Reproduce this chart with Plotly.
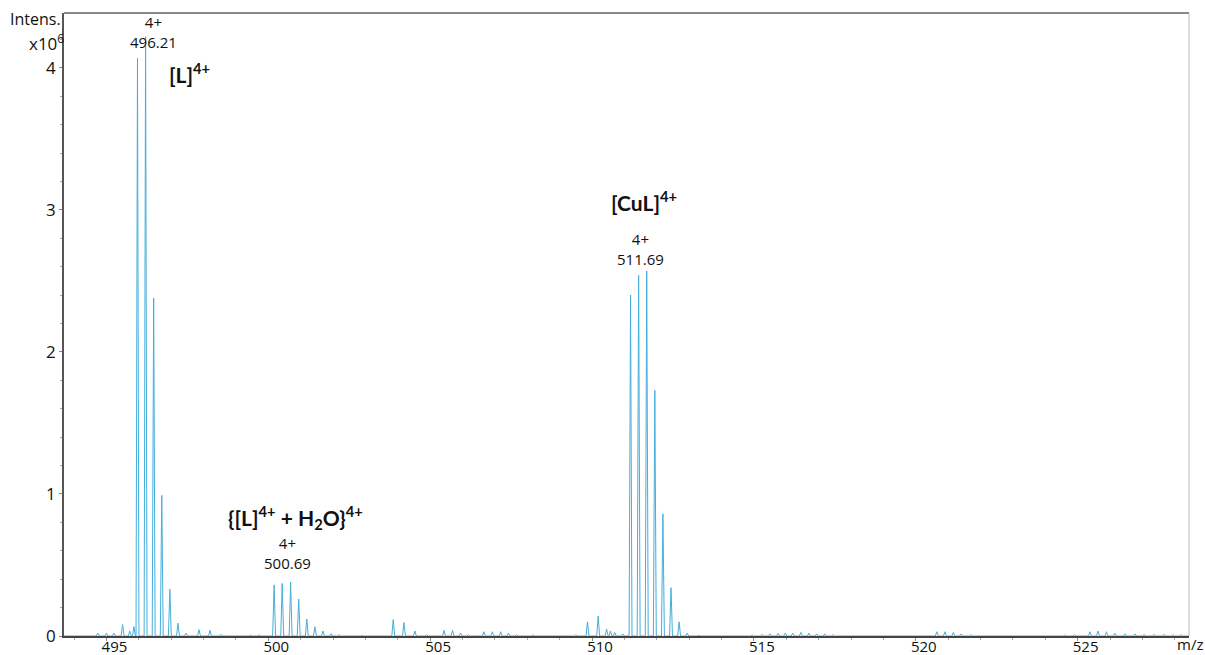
import plotly.graph_objects as go

# ---- data: centroid m/z and intensity (x10^6) ----
peak_mz = [
    494.73, 495.00, 495.23, 495.50, 495.72, 495.85,
    495.96, 496.21, 496.46, 496.71, 496.96, 497.21, 497.46,
    497.86, 498.20, 498.54, 499.10, 499.45, 499.72,
    500.18, 500.43, 500.69, 500.94, 501.19, 501.44, 501.69, 501.94, 502.19,
    502.90, 503.86, 504.19, 504.53, 504.89,
    505.43, 505.69, 505.94, 506.18, 506.66, 506.92, 507.18, 507.42, 507.67,
    508.18, 509.00, 509.50,
    509.86, 510.19, 510.45, 510.57, 510.70, 510.95,
    511.19, 511.44, 511.69, 511.94, 512.19, 512.44, 512.69, 512.94,
    513.30, 514.20, 514.95, 515.25, 515.50, 515.75, 515.97, 516.20, 516.45,
    516.70, 516.94, 517.19, 517.44,
    520.65, 520.90, 521.16, 521.40, 521.70,
    524.26, 524.60, 524.90, 525.38, 525.63, 525.89, 526.15, 526.46, 526.77,
    527.05, 527.36, 527.66, 527.95, 528.20,
]
peak_int = [
    0.02, 0.02, 0.02, 0.08, 0.035, 0.065,
    4.07, 4.22, 2.38, 0.99, 0.33, 0.09, 0.02,
    0.045, 0.04, 0.012, 0.004, 0.006, 0.008,
    0.36, 0.37, 0.38, 0.26, 0.12, 0.065, 0.035, 0.016, 0.01,
    0.003, 0.115, 0.095, 0.035, 0.01,
    0.04, 0.04, 0.02, 0.01, 0.03, 0.03, 0.03, 0.02, 0.01,
    0.008, 0.005, 0.01,
    0.10, 0.14, 0.05, 0.035, 0.025, 0.015,
    2.40, 2.54, 2.57, 1.73, 0.86, 0.34, 0.10, 0.02,
    0.005, 0.004, 0.008, 0.012, 0.015, 0.018, 0.02, 0.02, 0.025,
    0.02, 0.015, 0.015, 0.01,
    0.03, 0.03, 0.025, 0.015, 0.01,
    0.005, 0.006, 0.01, 0.03, 0.035, 0.03, 0.02, 0.015, 0.015,
    0.012, 0.012, 0.012, 0.01, 0.01,
]

# labelled peaks
label_mz = [496.21, 500.69, 511.69]
label_charge = ["4+", "4+", "4+"]
label_text = ["496.21", "500.69", "511.69"]
label_shift = [8, -3, -6]

species_text = ["[L]<sup>4+</sup>",
                "{[L]<sup>4+</sup> + H<sub>2</sub>O}<sup>4+</sup>",
                "[CuL]<sup>4+</sup>"]

x_range = [493.69, 528.44]
y_range = [0, 4.387]
x_ticks = [495, 500, 505, 510, 515, 520, 525]
y_ticks = [0, 1, 2, 3, 4]

# ---- build the profile (narrow peaks on a zero baseline) ----
HW = 0.045
xs, ys = [x_range[0]], [0]
for m, h in sorted(zip(peak_mz, peak_int)):
    xs += [m - HW, m, m + HW]
    ys += [0, h, 0]
xs.append(x_range[1]); ys.append(0)

W, H = 1205, 655
L, R, T, B = 64, 16, 13, 19
pw, ph = W - L - R, H - T - B

def px_to_paper_y(py):
    return (H - B - py) / ph

def px_to_paper_x(px):
    return (px - L) / pw

fig = go.Figure()
fig.add_trace(go.Scatter(x=xs, y=ys, mode="lines",
                         line=dict(color="#45aedb", width=1),
                         hoverinfo="skip", showlegend=False))

TF = dict(family="Open Sans", size=16, color="#111")
XF = dict(family="Open Sans", size=15, color="#111")
LF = dict(family="Open Sans", size=15, color="#111")
BF = dict(family="Lato", size=21, color="#111")

ann = []
pk_y = [32, 553, 249]
for m, c, t, s, yc in zip(label_mz, label_charge, label_text, label_shift, pk_y):
    ann.append(dict(x=m, xref="x", y=px_to_paper_y(yc), yref="paper",
                    text=c + "<br>" + t, showarrow=False, xshift=s, font=LF,
                    xanchor="center", yanchor="middle", align="center"))

sp_pos = [(167, 73), (226, 517), (609, 201)]
for t, (px, py) in zip(species_text, sp_pos):
    ann.append(dict(x=px_to_paper_x(px), xref="paper", y=px_to_paper_y(py), yref="paper",
                    text="<b>" + t + "</b>", showarrow=False, font=BF,
                    xanchor="left", yanchor="middle"))

ann.append(dict(x=px_to_paper_x(63), xref="paper", y=px_to_paper_y(19), yref="paper",
                text="Intens.", showarrow=False, font=TF, xanchor="right", yanchor="middle"))
ann.append(dict(x=px_to_paper_x(66), xref="paper", y=px_to_paper_y(43), yref="paper",
                text="x10<sup>6</sup>", showarrow=False,
                font=dict(family="Open Sans", size=17, color="#111"),
                xanchor="right", yanchor="middle"))
ann.append(dict(x=px_to_paper_x(1190), xref="paper", y=px_to_paper_y(644), yref="paper",
                text="m/z", showarrow=False, font=XF, xanchor="center", yanchor="middle"))

fig.update_layout(
    width=W, height=H, margin=dict(l=L, r=R, t=T, b=B, autoexpand=False),
    paper_bgcolor="white", plot_bgcolor="white",
    annotations=ann,
    xaxis=dict(range=x_range, tickvals=x_ticks, ticktext=[str(v) for v in x_ticks],
               showgrid=False, zeroline=False, showline=True, linecolor="#444", linewidth=1.5,
               ticks="outside", ticklen=3, tickcolor="#888", tickfont=XF, ticklabelshift=8,
               ticklabelstandoff=-7, automargin=False,
               minor=dict(dtick=1, ticks="outside", ticklen=2, tickcolor="#aaa"),
               layer="below traces", fixedrange=True),
    yaxis=dict(range=y_range, tickvals=y_ticks, ticktext=[str(v) for v in y_ticks],
               showgrid=False, zeroline=False, showline=True, linecolor="#555", linewidth=1.5,
               ticks="outside", ticklen=3, tickcolor="#888",
               tickfont=dict(family="Open Sans", size=17, color="#111"),
               automargin=False,
               minor=dict(dtick=0.2, ticks="outside", ticklen=2, tickcolor="#aaa"),
               layer="below traces", fixedrange=True),
    shapes=[
        dict(type="line", xref="paper", yref="paper", x0=0, x1=1, y0=1, y1=1,
             line=dict(color="#888", width=2)),
        dict(type="line", xref="paper", yref="paper", x0=1, x1=1, y0=0, y1=1,
             line=dict(color="#bbb", width=1)),
    ],
)

fig.write_html("out.html")
